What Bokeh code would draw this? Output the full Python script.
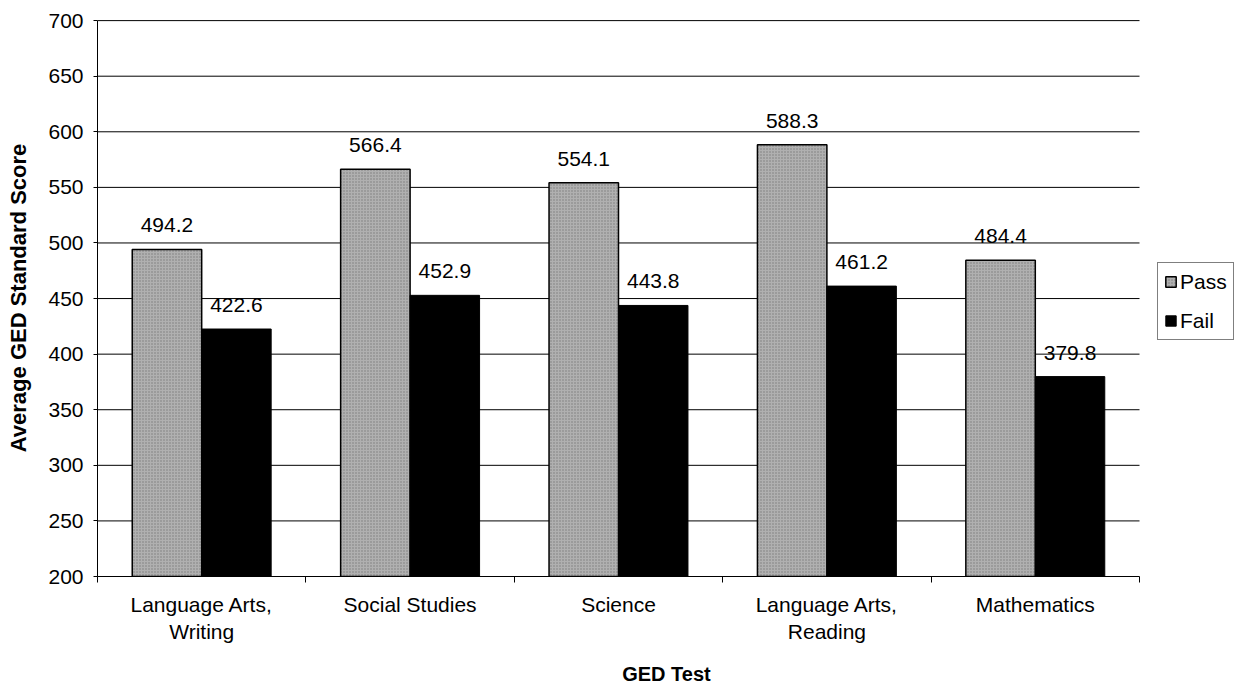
import numpy as np
from bokeh.plotting import figure
from bokeh.models import Range1d, FixedTicker, Legend, LegendItem
from bokeh.core.properties import value
from bokeh.embed import file_html
from bokeh.resources import INLINE

# ---- data ----
categories = ["Language Arts,\nWriting", "Social Studies", "Science",
              "Language Arts,\nReading", "Mathematics"]
pass_scores = [494.2, 566.4, 554.1, 588.3, 484.4]
fail_scores = [422.6, 452.9, 443.8, 461.2, 379.8]
y_ticks = [200, 250, 300, 350, 400, 450, 500, 550, 600, 650, 700]
series_names = ["Pass", "Fail"]

FONT = "Liberation Sans"
n = len(categories)
centers = np.arange(n) + 0.5
bar_w = 1.0 / 3.0
pass_x = centers - bar_w / 2
fail_x = centers + bar_w / 2
baseline = y_ticks[0]

# plot area 97..1139 px holds the categories; the frame runs on to the page edge
x_end = n * (1235 - 97) / (1139 - 97)

p = figure(width=1235, height=688, output_backend="svg", toolbar_location=None,
           x_range=Range1d(0, x_end), y_range=Range1d(y_ticks[0], y_ticks[-1] + 1),
           min_border_left=97, min_border_right=0, min_border_top=19,
           min_border_bottom=111)
p.outline_line_color = None
p.background_fill_color = "white"
p.border_fill_color = "white"
p.xgrid.grid_line_color = None
p.ygrid.grid_line_color = None

# horizontal gridlines over the category span only
grid_y = y_ticks[1:]
p.segment(x0=[0] * len(grid_y), x1=[n] * len(grid_y), y0=grid_y, y1=grid_y,
          line_color="black", line_width=1)

r_pass = p.vbar(x=pass_x, top=pass_scores, bottom=baseline, width=bar_w,
                fill_color="#b0b0b0", line_color="black", line_width=1.5,
                hatch_pattern="dot", hatch_color="#707070", hatch_scale=3,
                hatch_weight=1, hatch_alpha=0.8)
r_fail = p.vbar(x=fail_x, top=fail_scores, bottom=baseline, width=bar_w,
                fill_color="black", line_color="black", line_width=1)

# data labels
for xs, vals in ((pass_x, pass_scores), (fail_x, fail_scores)):
    p.text(x=xs, y=vals, text=[f"{v:.1f}" for v in vals], text_align="center",
           text_baseline="alphabetic", y_offset=-24,
           text_font=value(FONT), text_font_size="21px", text_color="black")

# y axis
p.yaxis.ticker = FixedTicker(ticks=y_ticks)
p.yaxis.bounds = (y_ticks[0], y_ticks[-1])
p.yaxis.major_label_text_font = FONT
p.yaxis.major_label_text_font_size = "21px"
p.yaxis.major_label_text_color = "black"
p.yaxis.major_tick_out = 4
p.yaxis.major_tick_in = 0
p.yaxis.minor_tick_line_color = None
p.yaxis.major_label_standoff = 10
p.yaxis.axis_line_color = "black"
p.yaxis.major_tick_line_color = "black"
p.yaxis.axis_label = "Average GED Standard Score"
p.yaxis.axis_label_text_font = FONT
p.yaxis.axis_label_text_font_size = "22px"
p.yaxis.axis_label_text_font_style = "bold"
p.yaxis.axis_label_text_color = "black"
p.yaxis.axis_label_standoff = 14

# x axis: labels at centres, ticks at category boundaries
p.xaxis.ticker = FixedTicker(ticks=list(centers), minor_ticks=list(range(n + 1)))
p.xaxis.bounds = (0, n)
p.xaxis.major_label_overrides = {float(c): lab for c, lab in zip(centers, categories)}
p.xaxis.major_tick_line_color = None
p.xaxis.major_tick_out = 0
p.xaxis.major_tick_in = 0
p.xaxis.minor_tick_line_color = "black"
p.xaxis.minor_tick_out = 6
p.xaxis.minor_tick_in = 0
p.xaxis.major_label_standoff = 10
p.xaxis.major_label_text_font = FONT
p.xaxis.major_label_text_font_size = "21px"
p.xaxis.major_label_text_color = "black"
p.xaxis.axis_line_color = "black"
p.xaxis.axis_label = "GED Test"
p.xaxis.axis_label_text_font = FONT
p.xaxis.axis_label_text_font_size = "20px"
p.xaxis.axis_label_text_font_style = "bold"
p.xaxis.axis_label_text_color = "black"
p.xaxis.axis_label_standoff = 17

legend = Legend(items=[LegendItem(label=series_names[0], renderers=[r_pass]),
                       LegendItem(label=series_names[1], renderers=[r_fail])],
                location=(1157 - 97, 236), orientation="vertical")
legend.border_line_color = "black"
legend.border_line_width = 1
legend.background_fill_color = "white"
legend.background_fill_alpha = 1
legend.label_text_font = FONT
legend.label_text_font_size = "21px"
legend.label_text_color = "black"
legend.glyph_width = 13
legend.glyph_height = 13
legend.label_standoff = 3
legend.label_height = 25
legend.padding = 6
legend.spacing = 14
legend.margin = 0
p.add_layout(legend, "center")

open("out.html", "w").write(file_html(p, INLINE))
